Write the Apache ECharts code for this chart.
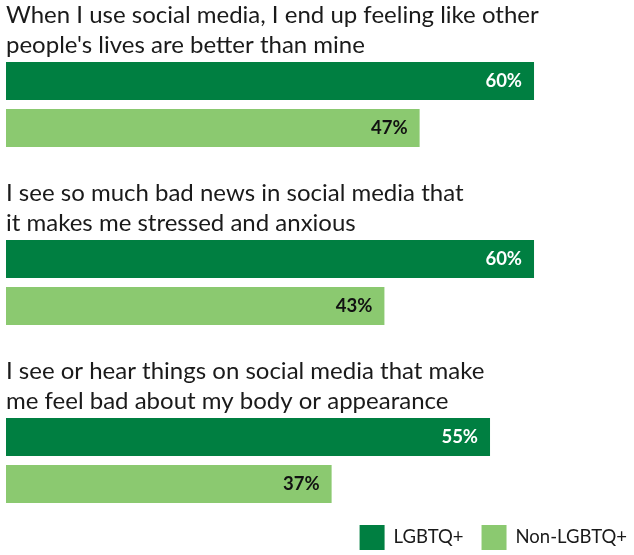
<!DOCTYPE html>
<html>
<head>
<meta charset="utf-8">
<script src="https://cdn.jsdelivr.net/npm/echarts@6/dist/echarts.min.js"></script>
<style>
html,body{margin:0;padding:0;background:#fff;}
#chart{width:634px;height:555px;}
</style>
</head>
<body>
<div id="chart"></div>
<script>
var categories = [
  "When I use social media, I end up feeling like other\npeople's lives are better than mine",
  "I see so much bad news in social media that\nit makes me stressed and anxious",
  "I see or hear things on social media that make\nme feel bad about my body or appearance"
];
var lgbtq = [60, 60, 55];
var nonLgbtq = [47, 43, 37];
var seriesNames = ["LGBTQ+", "Non-LGBTQ+"];

var chart = echarts.init(document.getElementById('chart'));
var font = 'Lato, "Noto Sans", sans-serif';
chart.setOption({
  animation: false,
  textStyle: { fontFamily: font },
  legend: {
    data: seriesNames,
    right: 2,
    bottom: 0,
    itemWidth: 25,
    itemHeight: 25,
    itemGap: 18,
    icon: 'rect',
    textStyle: { fontFamily: font, fontSize: 18.5, color: '#1a1a1a', padding: [0,0,0,4] }
  },
  grid: { left: 6, top: 15.5, right: 0, height: 534, containLabel: false },
  xAxis: { type: 'value', min: 0, max: 71.36, show: false },
  yAxis: {
    type: 'category',
    inverse: true,
    data: categories,
    axisLine: { show: false },
    axisTick: { show: false },
    axisLabel: {
      inside: true,
      margin: 0,
      align: 'left',
      verticalAlign: 'bottom',
      fontFamily: font,
      fontSize: 24,
      lineHeight: 30,
      color: '#1a1a1a',
      padding: [0, 0, 44, 0]
    }
  },
  series: [
    {
      name: seriesNames[0], type: 'bar', data: lgbtq,
      barWidth: 38, barGap: '23.7%',
      itemStyle: { color: '#007f41' },
      label: { show: true, position: 'insideRight', distance: 12, formatter: '{c}%',
        color: '#ffffff', fontWeight: 'bold', fontSize: 18.5, fontFamily: font }
    },
    {
      name: seriesNames[1], type: 'bar', data: nonLgbtq,
      barWidth: 38,
      itemStyle: { color: '#8bc970' },
      label: { show: true, position: 'insideRight', distance: 12, formatter: '{c}%',
        color: '#111111', fontWeight: 'bold', fontSize: 18.5, fontFamily: font }
    }
  ]
});
</script>
</body>
</html>
